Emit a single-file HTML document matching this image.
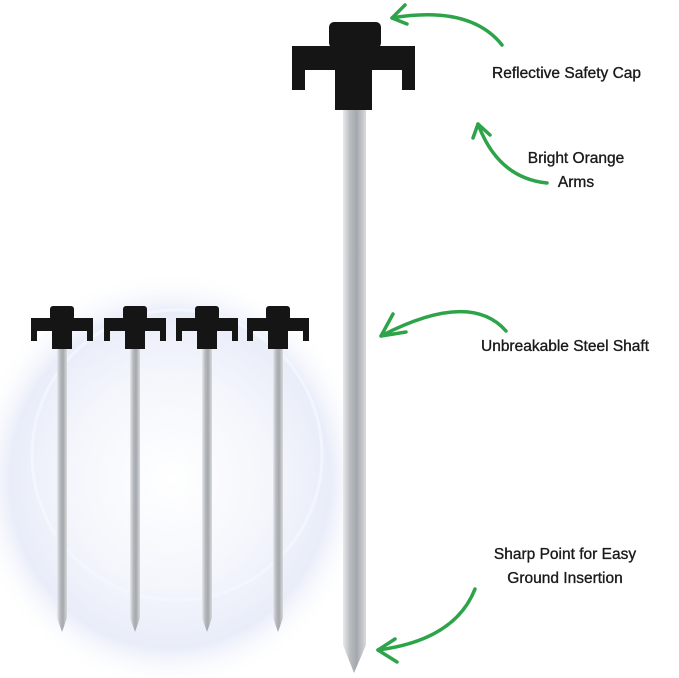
<!DOCTYPE html>
<html><head><meta charset="utf-8"><style>
html,body{margin:0;padding:0;background:#fff;}
svg{display:block;}
text{font-family:"Liberation Sans",sans-serif;font-size:15.5px;fill:#1a1a1a;stroke:#1a1a1a;stroke-width:0.35px;}
</style></head><body>
<svg width="679" height="678" viewBox="0 0 679 678" xmlns="http://www.w3.org/2000/svg">
<defs>
<radialGradient id="glow" cx="0.5" cy="0.5" r="0.5">
<stop offset="0" stop-color="#ffffff"/>
<stop offset="0.5" stop-color="#f4f6fc"/>
<stop offset="0.8" stop-color="#e9edf9"/>
<stop offset="1" stop-color="#ffffff" stop-opacity="0"/>
</radialGradient>
<linearGradient id="steel" x1="0" x2="1">
<stop offset="0" stop-color="#e8eaec"/><stop offset="0.3" stop-color="#b8bcc0"/>
<stop offset="0.6" stop-color="#a4a8ad"/><stop offset="1" stop-color="#d8dadc"/>
</linearGradient>
<g id="cap">
<rect x="-12" y="0" width="24" height="14" rx="3" fill="#151515"/>
<path d="M-31 12 H31 V35 H25 V25 H10 V43 H-10 V25 H-25 V35 H-31 Z" fill="#151515"/>
</g>
</defs>
<ellipse cx="170" cy="480" rx="200" ry="210" fill="url(#glow)"/>
<circle cx="177" cy="455" r="145" fill="none" stroke="#f3f7ff" stroke-width="3" opacity="0.8"/>
<g>
<g transform="translate(62,306)"><use href="#cap"/><path d="M-5 43 H5 V312 L0 326 L-5 312 Z" fill="url(#steel)"/></g>
<g transform="translate(135,306)"><use href="#cap"/><path d="M-5 43 H5 V312 L0 326 L-5 312 Z" fill="url(#steel)"/></g>
<g transform="translate(207,306)"><use href="#cap"/><path d="M-5 43 H5 V312 L0 326 L-5 312 Z" fill="url(#steel)"/></g>
<g transform="translate(278,306)"><use href="#cap"/><path d="M-5 43 H5 V312 L0 326 L-5 312 Z" fill="url(#steel)"/></g>
</g>
<path d="M343 108 H366 V645 L354 673 L343 645 Z" fill="url(#steel)"/>
<rect x="329" y="22" width="52" height="26" rx="5" fill="#151515"/>
<path d="M292 46 H415 V90 H402 V70 H372 V110 H335 V70 H305 V90 H292 Z" fill="#151515"/>
<g fill="none" stroke="#2ea44a" stroke-width="3.5" stroke-linecap="round" stroke-linejoin="round">
<path d="M502 45 Q470 5 392 18"/><path d="M405 5 L392 18 L407 24"/>
<path d="M547 183 Q498 178 478 124"/><path d="M473 138 L478 124 L490 135"/>
<path d="M506 331 Q470 290 381 336"/><path d="M393 314 L381 336 L406 332"/>
<path d="M475 589 Q455 640 378 650"/><path d="M395 639 L378 650 L397 662"/>
</g>
<text x="492" y="78">Reflective Safety Cap</text>
<text x="576" y="163" text-anchor="middle">Bright Orange</text>
<text x="576" y="187" text-anchor="middle">Arms</text>
<text x="481" y="351">Unbreakable Steel Shaft</text>
<text x="565" y="559" text-anchor="middle">Sharp Point for Easy</text>
<text x="565" y="583" text-anchor="middle">Ground Insertion</text>
</svg>
</body></html>
